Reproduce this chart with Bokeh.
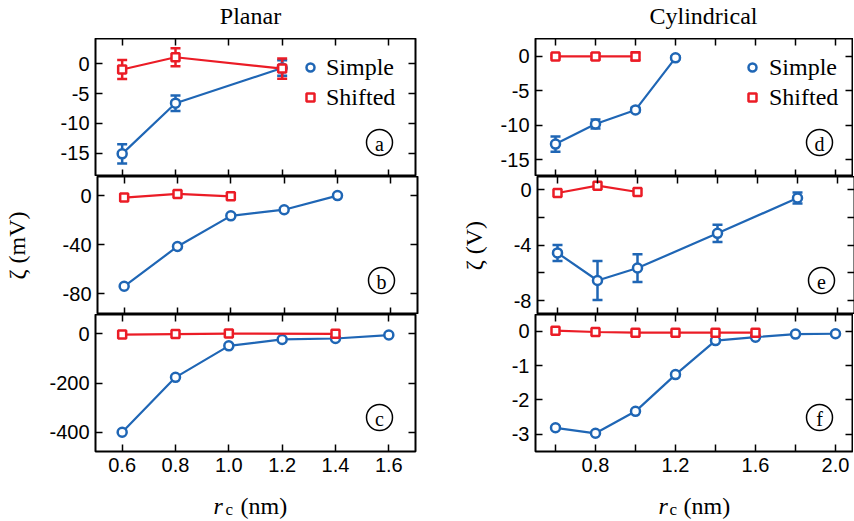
from bokeh.plotting import figure
from bokeh.models import (Range1d, LinearAxis, FixedTicker, Whisker, TeeHead,
                          ColumnDataSource, Legend, LegendItem)
from bokeh.layouts import column, row
from bokeh.embed import file_html
from bokeh.resources import INLINE
from bokeh.core.properties import value

# ---------------- data ----------------
# Planar column
a_simple_x = [0.6, 0.8, 1.2]
a_simple_y = [-15.1, -6.6, -0.7]
a_simple_err = [1.6, 1.3, 1.3]
a_shifted_x = [0.6, 0.8, 1.2]
a_shifted_y = [-0.95, 1.1, -0.8]
a_shifted_err = [1.6, 1.5, 1.7]

b_simple_x = [0.6, 0.8, 1.0, 1.2, 1.4]
b_simple_y = [-74.0, -41.5, -16.5, -11.5, 0.0]
b_shifted_x = [0.6, 0.8, 1.0]
b_shifted_y = [-1.6, 1.4, -0.6]

c_simple_x = [0.6, 0.8, 1.0, 1.2, 1.4, 1.6]
c_simple_y = [-400.0, -177.0, -49.0, -23.0, -19.0, -5.0]
c_shifted_x = [0.6, 0.8, 1.0, 1.4]
c_shifted_y = [-3.0, -1.0, 1.0, 0.0]

# Cylindrical column
d_simple_x = [0.6, 0.8, 1.0, 1.2]
d_simple_y = [-12.7, -9.8, -7.75, -0.2]
d_simple_err = [1.1, 0.65, 0.3, 0.2]
d_shifted_x = [0.6, 0.8, 1.0]
d_shifted_y = [0.0, 0.0, 0.0]
d_shifted_err = [0.2, 0.4, 0.6]

e_simple_x = [0.6, 0.8, 1.0, 1.4, 1.8]
e_simple_y = [-4.56, -6.55, -5.65, -3.15, -0.6]
e_simple_err = [0.58, 1.4, 1.0, 0.62, 0.39]
e_shifted_x = [0.6, 0.8, 1.0]
e_shifted_y = [-0.24, 0.29, -0.17]

f_simple_x = [0.6, 0.8, 1.0, 1.2, 1.4, 1.6, 1.8, 2.0]
f_simple_y = [-2.81, -2.97, -2.33, -1.26, -0.27, -0.17, -0.08, -0.07]
f_shifted_x = [0.6, 0.8, 1.0, 1.2, 1.4, 1.6]
f_shifted_y = [0.02, -0.02, -0.04, -0.04, -0.04, -0.04]

# ticks / labels
left_xticks = [0.6, 0.8, 1.0, 1.2, 1.4, 1.6]
left_xlabels = ["0.6", "0.8", "1.0", "1.2", "1.4", "1.6"]
right_xticks = [0.8, 1.2, 1.6, 2.0]
right_xminor = [0.6, 1.0, 1.4, 1.8]
right_xlabels = ["0.8", "1.2", "1.6", "2.0"]

a_yticks, a_ylabels = [0, -5, -10, -15], ["0", "-5", "-10", "-15"]
b_yticks, b_ylabels = [0, -40, -80], ["0", "-40", "-80"]
c_yticks, c_ylabels = [0, -200, -400], ["0", "-200", "-400"]
d_yticks, d_ylabels = [0, -5, -10, -15], ["0", "-5", "-10", "-15"]
e_yticks, e_yminor, e_ylabels = [0, -4, -8], [-2, -6], ["0", "-4", "-8"]
f_yticks, f_ylabels = [0, -1, -2, -3], ["0", "-1", "-2", "-3"]

a_yrange = (-18.9, 4.25)
b_yrange = (-97.0, 15.6)
c_yrange = (-478.5, 78.5)
d_yrange = (-17.4, 2.6)
e_yrange = (-9.0, 0.95)
f_yrange = (-3.5, 0.49)

column_titles = ["Planar", "Cylindrical"]
y_titles = ["ζ (mV)", "ζ (V)"]
panel_letters = [["a", "b", "c"], ["d", "e", "f"]]
series_names = ["Simple", "Shifted"]

# ---------------- style / layout ----------------
BLUE = "#1f66b5"
RED = "#eb1c26"
SERIF = "Liberation Serif"
SANS = "Liberation Sans"

ML_L, FW_L, MR_L = 95, 320, 40
ML_R, FW_R, MR_R = 80, 317, 1
W = ML_L + FW_L + MR_L + ML_R + FW_R + MR_R
FL = [ML_L, ML_L + FW_L + MR_L + ML_R]      # frame left edge of each column
XPP = [1.2 / 320, 1.6 / 320]
XR = [(0.5, 0.5 + FW_L * XPP[0]), (0.5, 0.5 + FW_R * XPP[1])]
FWS = [FW_L, FW_R]
FH = [138, 138, 137]
TOP_H = 38
MB_LAST = 34
BOT_H = 34


def y_at(yr, fh, px_from_bottom):
    return yr[0] + px_from_bottom * (yr[1] - yr[0]) / fh


def style_axis(ax, ticks, minor, labels, standoff):
    ax.ticker = FixedTicker(ticks=ticks, minor_ticks=minor)
    ax.axis_line_color = None
    ax.major_tick_in = 7
    ax.major_tick_out = 0
    ax.minor_tick_in = 7
    ax.minor_tick_out = 0
    ax.major_tick_line_color = "black"
    ax.major_tick_line_width = 1.5
    ax.minor_tick_line_color = "black"
    ax.minor_tick_line_width = 1.5
    if labels is None:
        ax.major_label_overrides = {t: "" for t in ticks}
        ax.major_label_text_font_size = "0px"
        ax.major_label_standoff = 0
    else:
        ax.major_label_overrides = dict(zip(ticks, labels))
        ax.major_label_text_font = SANS
        ax.major_label_text_font_size = "20px"
        ax.major_label_text_color = "black"
        ax.major_label_standoff = standoff


def series(p, xs, ys, errs, color, marker, size):
    data = dict(x=xs, y=ys)
    if errs is not None:
        data["lo"] = [y - e for y, e in zip(ys, errs)]
        data["hi"] = [y + e for y, e in zip(ys, errs)]
    src = ColumnDataSource(data)
    p.line("x", "y", source=src, line_color=color, line_width=2.2)
    if errs is not None:
        p.add_layout(Whisker(source=src, base="x", lower="lo", upper="hi",
                             line_color=color, line_width=2.5,
                             upper_head=TeeHead(size=10, line_color=color, line_width=2.5),
                             lower_head=TeeHead(size=10, line_color=color, line_width=2.5)))
    return p.scatter("x", "y", source=src, marker=marker, size=size,
                     line_color=color, line_width=2.5, fill_color="white")


def make_panel(col, r, yr, yt, yminor, ylabels, sx, sy, serr, hx, hy, herr):
    left = col == 0
    fw = FWS[col]
    xr = XR[col]
    xpp = XPP[col]
    fh = FH[r]
    p = figure(frame_width=fw, frame_height=fh,
               x_range=Range1d(*xr), y_range=Range1d(*yr),
               min_border_left=ML_L if left else ML_R,
               min_border_right=MR_L if left else MR_R,
               min_border_top=0, min_border_bottom=MB_LAST if r == 2 else 0,
               x_axis_location=None, y_axis_location=None,
               output_backend="svg", toolbar_location=None)
    p.grid.grid_line_color = None
    p.outline_line_color = "black"
    p.outline_line_width = 2
    p.outline_line_alpha = 1
    p.background_fill_color = "white"
    p.border_fill_color = "white"

    xt = left_xticks if left else right_xticks
    xm = [] if left else right_xminor
    xl = left_xlabels if left else right_xlabels
    for loc in ("below", "above"):
        ax = LinearAxis()
        style_axis(ax, xt, xm, xl if (loc == "below" and r == 2) else None, 6)
        p.add_layout(ax, loc)
    for loc in ("left", "right"):
        ax = LinearAxis()
        style_axis(ax, yt, yminor, ylabels if loc == "left" else None, 6)
        if loc == "left" and r == 1:
            ax.axis_label = y_titles[col]
            ax.axis_label_text_font = SERIF
            ax.axis_label_text_font_style = "normal"
            ax.axis_label_text_font_size = "24px"
            ax.axis_label_text_color = "black"
            ax.axis_label_standoff = 30 if left else 24
        p.add_layout(ax, loc)

    rs = series(p, sx, sy, serr, BLUE, "circle", 9)
    rh = series(p, hx, hy, herr, RED, "square", 8)

    if r == 0:
        leg = Legend(items=[LegendItem(label=series_names[0], renderers=[rs]),
                            LegendItem(label=series_names[1], renderers=[rh])],
                     location=(205 if left else 207, 64),
                     orientation="vertical", padding=0, margin=0, spacing=0,
                     glyph_width=20, glyph_height=30, label_height=30,
                     label_standoff=6 if left else 7, label_text_font=SERIF,
                     label_text_font_size="24px", label_text_color="black",
                     background_fill_alpha=0, border_line_color=None)
        p.add_layout(leg, "center")

    # circled panel letter
    cx = xr[0] + 284 * xpp
    cy = y_at(yr, fh, 34)
    p.scatter(x=[cx], y=[cy], marker="circle", size=26, fill_color=None,
              line_color="black", line_width=1.5)
    p.text(x=[cx], y=[cy], text=[panel_letters[col][r]], text_font=value(SERIF),
           text_font_size="20px", text_align="center", text_baseline="middle",
           text_color="black", y_offset=1)
    return p


def strip(h):
    s = figure(width=W, height=h, x_range=Range1d(0, W), y_range=Range1d(h, 0),
               x_axis_location=None, y_axis_location=None, min_border=0,
               output_backend="svg", toolbar_location=None)
    s.grid.grid_line_color = None
    s.outline_line_color = None
    s.background_fill_color = "white"
    s.border_fill_color = "white"
    return s


pa = make_panel(0, 0, a_yrange, a_yticks, [], a_ylabels,
                a_simple_x, a_simple_y, a_simple_err, a_shifted_x, a_shifted_y, a_shifted_err)
pb = make_panel(0, 1, b_yrange, b_yticks, [], b_ylabels,
                b_simple_x, b_simple_y, None, b_shifted_x, b_shifted_y, None)
pc = make_panel(0, 2, c_yrange, c_yticks, [], c_ylabels,
                c_simple_x, c_simple_y, None, c_shifted_x, c_shifted_y, None)
pd = make_panel(1, 0, d_yrange, d_yticks, [], d_ylabels,
                d_simple_x, d_simple_y, d_simple_err, d_shifted_x, d_shifted_y, d_shifted_err)
pe = make_panel(1, 1, e_yrange, e_yticks, e_yminor, e_ylabels,
                e_simple_x, e_simple_y, e_simple_err, e_shifted_x, e_shifted_y, None)
pf = make_panel(1, 2, f_yrange, f_yticks, [], f_ylabels,
                f_simple_x, f_simple_y, None, f_shifted_x, f_shifted_y, None)

# column titles strip
top = strip(TOP_H)
top.text(x=[FL[0] + 155, FL[1] + 168], y=[15, 15], text=column_titles,
         text_font=value(SERIF), text_font_size="24px", text_align="center",
         text_baseline="middle", text_color="black")

# x-axis titles strip: italic r, subscript c, (nm)
bot = strip(BOT_H)
r_x = [FL[0] + 118, FL[1] + 123]
c_x = [FL[0] + 130, FL[1] + 134]
nm_x = [FL[0] + 145, FL[1] + 148]
bot.text(x=r_x, y=[20, 20], text=["r", "r"], text_font=value(SERIF),
         text_font_style="italic", text_font_size="24px", text_align="left",
         text_baseline="middle", text_color="black")
bot.text(x=c_x, y=[24, 24], text=["c", "c"], text_font=value(SERIF),
         text_font_size="17px", text_align="left",
         text_baseline="middle", text_color="black")
bot.text(x=nm_x, y=[20, 20], text=["(nm)", "(nm)"], text_font=value(SERIF),
         text_font_size="24px", text_align="left",
         text_baseline="middle", text_color="black")

layout = column(top, row(pa, pd), row(pb, pe), row(pc, pf), bot)
open("out.html", "w").write(file_html(layout, INLINE))
